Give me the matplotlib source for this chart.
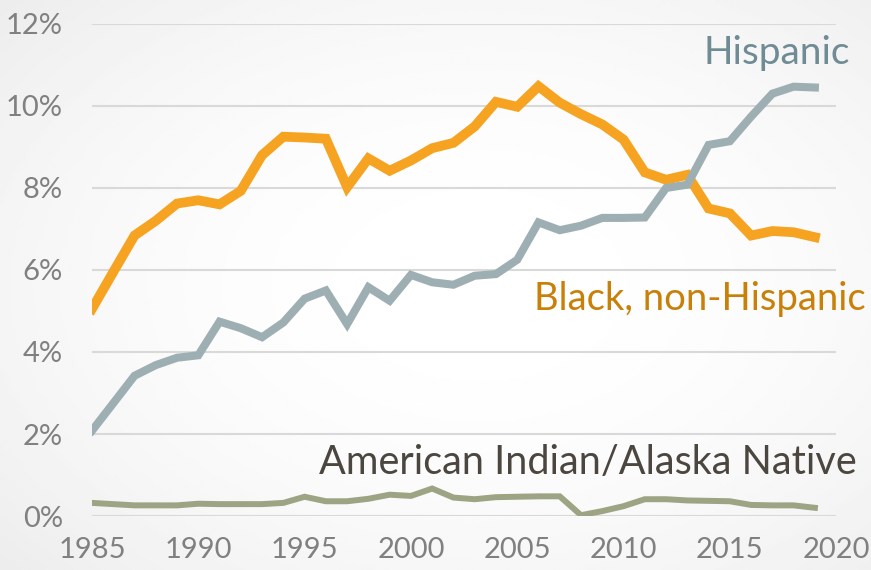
import numpy as np
import matplotlib
matplotlib.use("Agg")
import matplotlib.pyplot as plt

plt.rcParams['font.family'] = ['Lato', 'DejaVu Sans']

years = list(range(1985, 2020))

black = [5.05, 5.95, 6.84, 7.2, 7.62, 7.7, 7.6, 7.93, 8.8, 9.25,
         9.23, 9.2, 8.02, 8.72, 8.42, 8.67, 8.97, 9.1, 9.5, 10.1,
         9.98, 10.48, 10.08, 9.8, 9.55, 9.18, 8.38, 8.2, 8.32, 7.5,
         7.38, 6.84, 6.95, 6.92, 6.8]

hispanic = [2.08, 2.75, 3.42, 3.68, 3.86, 3.92, 4.74, 4.58, 4.36, 4.72,
            5.3, 5.5, 4.68, 5.58, 5.25, 5.88, 5.7, 5.64, 5.86, 5.9,
            6.25, 7.16, 6.97, 7.08, 7.27, 7.27, 7.28, 8.0, 8.08, 9.05,
            9.14, 9.74, 10.3, 10.47, 10.45]

aian = [0.32, 0.29, 0.26, 0.26, 0.26, 0.3, 0.29, 0.29, 0.29, 0.32,
        0.47, 0.36, 0.36, 0.42, 0.52, 0.49, 0.67, 0.45, 0.41, 0.46,
        0.47, 0.48, 0.48, 0.02, 0.12, 0.24, 0.41, 0.41, 0.38, 0.37,
        0.36, 0.27, 0.26, 0.26, 0.2]

fig = plt.figure(figsize=(8.71, 5.70), dpi=100)

# soft radial background, nearly white in the middle
bg = fig.add_axes([0, 0, 1, 1], zorder=-10)
gx, gy = np.meshgrid(np.linspace(0, 1, 300), np.linspace(0, 1, 200))
r = np.sqrt(((gx - 0.55) / 0.8) ** 2 + ((gy - 0.5) / 0.8) ** 2)
shade = 1.0 - 0.085 * np.clip(r, 0, 1) ** 2
bg.imshow(shade, cmap='gray', vmin=0, vmax=1, aspect='auto', extent=[0, 1, 0, 1])
bg.axis('off')

ax = fig.add_axes([0.1056, 0.0947, 0.8544, 0.8633])
ax.patch.set_alpha(0)

ax.plot(years, black, color='#F5A320', lw=7, solid_joinstyle='miter', zorder=3)
ax.plot(years, hispanic, color='#9EAFB4', lw=5.8, solid_joinstyle='miter', zorder=4)
ax.plot(years, aian, color='#9DA484', lw=4.3, solid_joinstyle='miter', zorder=3)

ax.set_xlim(1985, 2020)
ax.set_ylim(0, 12)
ax.set_xticks(range(1985, 2021, 5))
ax.set_yticks(range(0, 13, 2))
ax.set_yticklabels([f'{v}%' for v in range(0, 13, 2)])
ax.grid(axis='y', color='#D9D9D9', lw=1.5, zorder=0)
ax.tick_params(length=0, labelsize=21, colors='#808080')
ax.tick_params(axis='y', pad=21)
ax.tick_params(axis='x', pad=15)
for s in ax.spines.values():
    s.set_visible(False)

ax.text(2017.2, 11.3, 'Hispanic', color='#6F8C95', fontsize=28, ha='center', va='center')
ax.text(2013.6, 5.3, 'Black, non-Hispanic', color='#C98008', fontsize=27.5,
        ha='center', va='center')
ax.text(2008.3, 1.3, 'American Indian/Alaska Native', color='#4B4640', fontsize=28.5,
        ha='center', va='center')

fig.savefig('out.png', dpi=100)
